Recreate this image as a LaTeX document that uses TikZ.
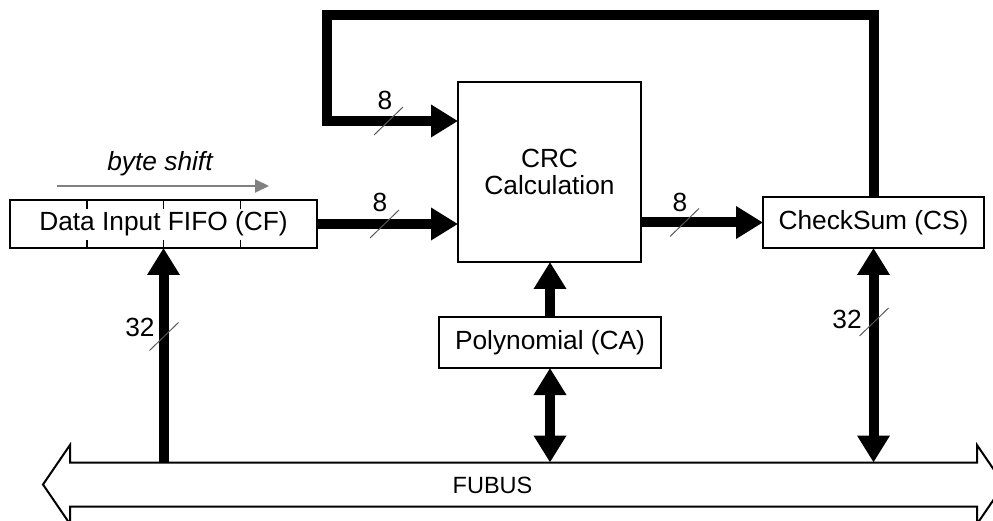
\documentclass[tikz,border=0pt]{standalone}
\usepackage{fontspec}
\setmainfont{Liberation Sans}
\usetikzlibrary{arrows.meta,calc}
\begin{document}
\begin{tikzpicture}[x=1pt,y=-1pt,
  box/.style={draw,line width=2pt,inner sep=0pt,outer sep=0pt,
    font=\fontsize{26.3}{26.7}\selectfont,align=center},
  lbl/.style={inner sep=0pt,font=\fontsize{26.3}{26.7}\selectfont},
  busarrow/.style={line width=10pt,line join=miter,
    arrows={-Triangle[length=27pt,width=31pt]}},
  busdouble/.style={line width=10pt,
    arrows={Triangle[length=27pt,width=31pt]-Triangle[length=27pt,width=31pt]}},
  slashmark/.style={draw=black!65,line width=1pt},
  tickmark/.style={draw,line width=1.5pt},
]
\useasboundingbox (0,0) rectangle (993,521);

% boxes
\node[box,minimum width=307pt,minimum height=48pt] (fifo) at (163.5,224) {Data Input FIFO (CF)};
\node[box,minimum width=183pt,minimum height=180pt] (crc) at (549.5,172) {CRC\\Calculation};
\node[box,minimum width=221pt,minimum height=51pt] (cs) at (873.5,222.5) {CheckSum (CS)};
\node[box,minimum width=222pt,minimum height=51pt] (poly) at (550,342.5) {Polynomial (CA)};

% FIFO dividers
\foreach \f in {0.25,0.5,0.75}{
  \draw[tickmark] ($(fifo.north west)!\f!(fifo.north east)$) -- ++(0,9);
  \draw[tickmark] ($(fifo.south west)!\f!(fifo.south east)$) -- ++(0,-8);
}

% byte shift
\node[lbl,font=\fontsize{26.3}{26.7}\selectfont\itshape] (bs) at (160,164) {byte shift};
\draw[draw=black!50,line width=2pt,arrows={-Triangle[length=14pt,width=13pt]}] (57,186) -- (269,186);

% FUBUS
\draw[line width=2pt,line join=miter,fill=white]
  (43,484.5) -- (70,445) -- (70,462.5) -- (977,462.5) -- (977,445) -- (1004,484.5)
  -- (977,524) -- (977,506.5) -- (70,506.5) -- (70,524) -- cycle;
\node[lbl,font=\fontsize{23.5}{24}\selectfont] (fubus) at (492.5,485) {FUBUS};
\coordinate (bustop) at (0,462.5);

% feedback coordinates
\coordinate (fbtop) at (0,15.5);
\coordinate (fbleft) at (327,0);
\coordinate (fby) at (0,121);

% connectors
\draw[busarrow] (cs.north) -- (cs.north |- fbtop) -- (fbleft |- fbtop) -- (fbleft |- fby) -- (crc.west |- fby);
\draw[busarrow] (fifo.east) -- (crc.west |- fifo.east);
\draw[busarrow] (crc.east |- cs.west) -- (cs.west);
\draw[busarrow] (fifo.south |- bustop) -- (fifo.south);
\draw[busarrow] (poly.north) -- (poly.north |- crc.south);
\draw[busdouble] (poly.south) -- (poly.south |- bustop);
\draw[busdouble] (cs.south) -- (cs.south |- bustop);

% width labels and slashes
\node[lbl] (w1) at (385,100) {8};
\draw[slashmark] (388.5,121) ++(-14.5,14) -- ++(29,-28);
\node[lbl] (w2) at (380,202) {8};
\draw[slashmark] (384.5,224) ++(-14.5,14) -- ++(29,-28);
\node[lbl] (w3) at (680,202.5) {8};
\draw[slashmark] (684.5,222.5) ++(-14.5,14) -- ++(29,-28);
\node[lbl] (w4) at (140,327) {32};
\draw[slashmark] (164,336.5) ++(-14.5,14) -- ++(29,-28);
\node[lbl] (w5) at (847,319) {32};
\draw[slashmark] (874,322) ++(-14.5,14) -- ++(29,-28);
\end{tikzpicture}
\end{document}
